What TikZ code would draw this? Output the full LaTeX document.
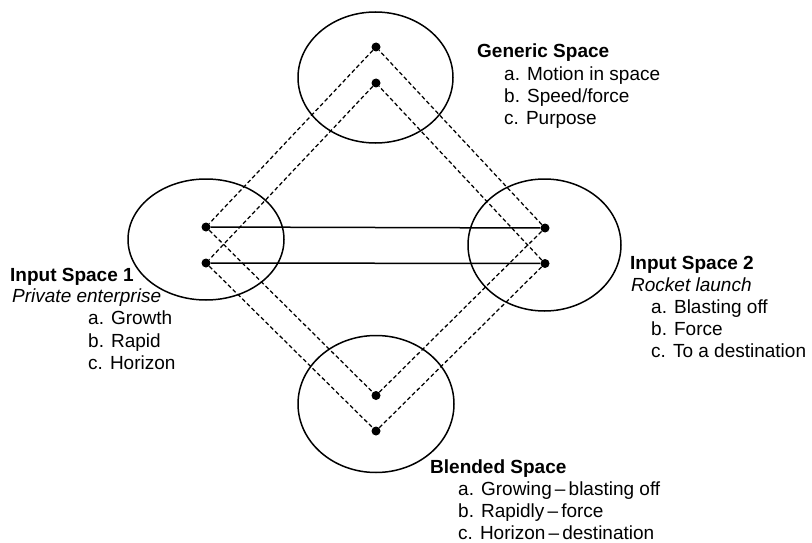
\documentclass[tikz,border=0pt]{standalone}
\usepackage{fontspec}
\setmainfont{Liberation Sans}
\usepackage{tikz}
\usetikzlibrary{positioning}

\begin{document}
\begin{tikzpicture}[x=1pt,y=-1pt,
  space/.style={line width=1.5pt},
  dot/.style={circle,fill,inner sep=0pt,minimum size=9pt},
  link/.style={line width=1.5pt},
  cross/.style={line width=1.25pt,dash pattern=on 4pt off 2.6pt},
  txt/.style={anchor=base west,inner sep=0pt,font=\fontsize{19}{22}\selectfont}]
\useasboundingbox (0,0) rectangle (812,543);
% the four mental spaces
\draw[space] (375.5,77.5) ellipse [x radius=77.5,y radius=65.5];
\draw[space] (206,239.5) ellipse [x radius=78,y radius=60.5];
\draw[space] (544.5,245) ellipse [x radius=76.5,y radius=66];
\draw[space] (376,404) ellipse [x radius=78,y radius=68.5];
% elements
\node[dot] (gen1) at (376,47) {};
\node[dot] (gen2) at (376,83) {};
\node[dot] (inA1) at (206,227) {};
\node[dot] (inA2) at (206,263) {};
\node[dot] (inB1) at (545,228) {};
\node[dot] (inB2) at (545,263.5) {};
\node[dot] (bl1) at (376,395.5) {};
\node[dot] (bl2) at (376,431) {};
% cross-space mappings
\draw[link] (inA1) -- (inB1);
\draw[link] (inA2) -- (inB2);
\draw[cross] (gen1) -- (inA1) -- (bl1) -- (inB1) -- (gen1);
\draw[cross] (gen2) -- (inA2) -- (bl2) -- (inB2) -- (gen2);
% labels
\node[txt] (genT) at (477,58) {\bfseries Generic Space};
\foreach \t [count=\i] in {a. Motion in space,b. Speed/force,c. Purpose}
  \node[txt] (gen-\i) at (504,58+22.3*\i) {\t};
\node[txt] (inAT) at (10,281) {\bfseries Input Space 1};
\node[txt] (inAS) at (12,302.5) {\itshape Private enterprise};
\foreach \t [count=\i] in {a. Growth,b. Rapid,c. Horizon}
  \node[txt] (inA-\i) at (88,302.5+22.3*\i) {\t};
\node[txt] (inBT) at (630,269) {\bfseries Input Space 2};
\node[txt] (inBS) at (631,291) {\itshape Rocket launch};
\foreach \t [count=\i] in {a. Blasting off,b. Force,c. To a destination}
  \node[txt] (inB-\i) at (651,291+22.3*\i) {\t};
\node[txt] (blT) at (430,473) {\bfseries Blended Space};
\foreach \t [count=\i] in {a. Growing\,--\,blasting off,b. Rapidly\,--\,force,c. Horizon\,--\,destination}
  \node[txt] (bl-\i) at (458,473+22.2*\i) {\t};
\end{tikzpicture}
\end{document}
